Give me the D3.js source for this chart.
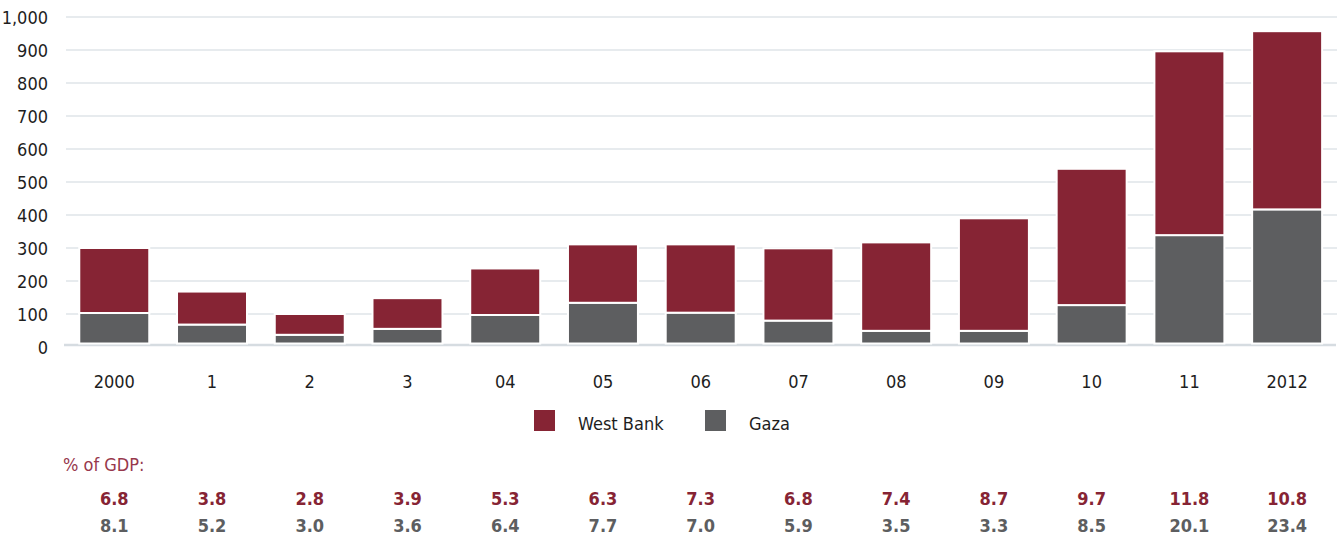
<!DOCTYPE html>
<html>
<head>
<meta charset="utf-8">
<script src="https://cdn.jsdelivr.net/npm/d3@7"></script>
<style>
  html, body { margin: 0; padding: 0; background: #fff; }
  svg { display: block; }
  text { font-family: "DejaVu Sans Condensed", "Roboto", sans-serif; }
</style>
</head>
<body>
<svg id="chart" width="1343" height="537"></svg>
<script>
// ---- data ----
const years = ["2000", "1", "2", "3", "04", "05", "06", "07", "08", "09", "10", "11", "2012"];
const westBank = [197, 100, 63, 93, 141, 177, 207, 219, 268, 341, 413, 557, 540];
const gaza = [103, 68, 37, 55, 97, 134, 104, 80, 49, 49, 127, 339, 417];
const gdpWestBank = ["6.8", "3.8", "2.8", "3.9", "5.3", "6.3", "7.3", "6.8", "7.4", "8.7", "9.7", "11.8", "10.8"];
const gdpGaza = ["8.1", "5.2", "3.0", "3.6", "6.4", "7.7", "7.0", "5.9", "3.5", "3.3", "8.5", "20.1", "23.4"];
const yTicks = [0, 100, 200, 300, 400, 500, 600, 700, 800, 900, 1000];
const seriesNames = ["West Bank", "Gaza"];
const gdpLabel = "% of GDP:";

// ---- styles ----
const RED = "#862434";
const GREY = "#5d5e60";
const GRID = "#dfe4e9";
const TEXT = "#1e1e1e";
const FONT = "'DejaVu Sans Condensed', Roboto, sans-serif";
const FS = 18;

const svg = d3.select("#chart");

const x = d3.scaleBand()
  .domain(years)
  .range([65.4, 1336])
  .paddingInner(0.284)
  .paddingOuter(0.142);

const y = d3.scaleLinear().domain([0, 1000]).range([347, 17]);

const baseGap = 3.5; // bars stop just above the baseline rule

// gridlines
svg.append("g")
  .selectAll("line")
  .data(yTicks.filter(d => d > 0))
  .join("line")
  .attr("x1", 66).attr("x2", 1337)
  .attr("y1", d => y(d)).attr("y2", d => y(d))
  .attr("stroke", GRID).attr("stroke-width", 1.3);

// baseline
svg.append("line")
  .attr("x1", 64).attr("x2", 1336)
  .attr("y1", y(0) - 2).attr("y2", y(0) - 2)
  .attr("stroke", "#d6dce1").attr("stroke-width", 2.5);

// y axis labels
const yAxis = d3.axisLeft(y)
  .tickValues(yTicks)
  .tickFormat(d3.format(","))
  .tickSize(0)
  .tickPadding(0);
const gy = svg.append("g").attr("transform", "translate(48,0)").call(yAxis);
gy.select(".domain").remove();
gy.selectAll("text")
  .attr("font-family", FONT)
  .attr("font-size", FS)
  .attr("fill", TEXT)
  .attr("dy", "0.36em")
  .attr("dx", 0);

// stacked bars
const rows = years.map((yr, i) => ({ year: yr, gaza: gaza[i], westBank: westBank[i] }));
const stack = d3.stack().keys(["gaza", "westBank"]);
const layers = stack(rows);
const colors = { gaza: GREY, westBank: RED };

svg.append("g")
  .selectAll("g")
  .data(layers)
  .join("g")
  .attr("fill", d => colors[d.key])
  .selectAll("rect")
  .data(d => d)
  .join("rect")
  .attr("x", d => x(d.data.year))
  .attr("width", x.bandwidth())
  .attr("y", d => y(d[1]))
  .attr("height", d => (y(d[0]) - y(d[1])) - (d[0] === 0 ? baseGap : 0))
  .attr("stroke", "#fff")
  .attr("stroke-width", 2);

// x axis labels
const xAxis = d3.axisBottom(x).tickSize(0).tickPadding(0);
const gx = svg.append("g").attr("transform", "translate(0,375)").call(xAxis);
gx.select(".domain").remove();
gx.selectAll("text")
  .attr("font-family", FONT)
  .attr("font-size", FS)
  .attr("fill", TEXT)
  .attr("dy", "0.71em");

// legend
const legend = svg.append("g");
const legendItems = [
  { name: seriesNames[0], color: RED, x: 534, tx: 578 },
  { name: seriesNames[1], color: GREY, x: 705, tx: 749 }
];
const li = legend.selectAll("g").data(legendItems).join("g");
li.append("rect")
  .attr("x", d => d.x).attr("y", 410)
  .attr("width", 21).attr("height", 21)
  .attr("fill", d => d.color);
li.append("text")
  .attr("x", d => d.tx).attr("y", 430)
  .attr("font-family", FONT)
  .attr("font-size", FS)
  .attr("fill", TEXT)
  .text(d => d.name);

// % of GDP
svg.append("text")
  .attr("x", 63).attr("y", 471)
  .attr("font-family", FONT)
  .attr("font-size", FS)
  .attr("fill", "#97384c")
  .text(gdpLabel);

svg.append("g")
  .selectAll("text")
  .data(gdpWestBank)
  .join("text")
  .attr("x", (d, i) => x(years[i]) + x.bandwidth() / 2)
  .attr("y", 505)
  .attr("text-anchor", "middle")
  .attr("font-family", FONT)
  .attr("font-size", FS)
  .attr("font-weight", "bold")
  .attr("fill", RED)
  .text(d => d);

svg.append("g")
  .selectAll("text")
  .data(gdpGaza)
  .join("text")
  .attr("x", (d, i) => x(years[i]) + x.bandwidth() / 2)
  .attr("y", 532)
  .attr("text-anchor", "middle")
  .attr("font-family", FONT)
  .attr("font-size", FS)
  .attr("font-weight", "bold")
  .attr("fill", GREY)
  .text(d => d);
</script>
</body>
</html>
